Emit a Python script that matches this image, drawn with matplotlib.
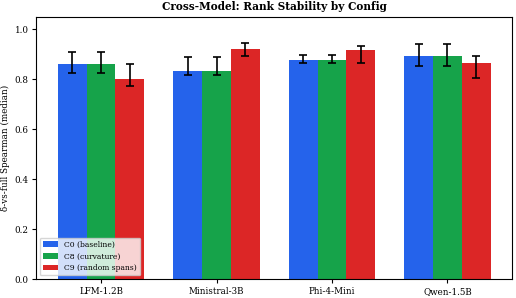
import matplotlib
matplotlib.use("Agg")
import matplotlib.pyplot as plt
import numpy as np

MODELS = ["LFM-1.2B", "Ministral-3B", "Phi-4-Mini", "Qwen-1.5B"]
CONFIGS = ["C0 (baseline)", "C8 (curvature)", "C9 (random spans)"]
MEDIANS = [
    [0.862, 0.832, 0.877, 0.892],   # C0
    [0.862, 0.832, 0.877, 0.892],   # C8
    [0.801, 0.921, 0.916, 0.867],   # C9
]
ERR_LO = [
    [0.826, 0.816, 0.865, 0.853],
    [0.826, 0.816, 0.865, 0.853],
    [0.773, 0.893, 0.865, 0.805],
]
ERR_HI = [
    [0.911, 0.888, 0.897, 0.940],
    [0.911, 0.888, 0.897, 0.940],
    [0.861, 0.947, 0.933, 0.895],
]
COLORS = ["#2563eb", "#16a34a", "#dc2626"]

plt.rcParams["font.family"] = "DejaVu Serif"

fig, ax = plt.subplots(figsize=(5.16, 2.98), dpi=100)
x = np.arange(len(MODELS))
w = 0.25
for i, (lab, c) in enumerate(zip(CONFIGS, COLORS)):
    med = np.array(MEDIANS[i])
    yerr = [med - np.array(ERR_LO[i]), np.array(ERR_HI[i]) - med]
    ax.bar(x + (i - 1) * w, med, w, color=c, label=lab, yerr=yerr, capsize=3,
           error_kw=dict(ecolor="black", elinewidth=1.2, capthick=1.2))

ax.set_xticks(x)
ax.set_xticklabels(MODELS, fontsize=6.3)
ax.tick_params(axis="both", labelsize=6.3, length=3, pad=2.5)
ax.set_ylim(0, 1.05)
ax.set_ylabel("δ-vs-full Spearman (median)", fontsize=6.3, labelpad=3)
ax.set_title("Cross-Model: Rank Stability by Config", fontsize=7.6,
             fontweight="bold", pad=5)
ax.legend(loc="lower left", fontsize=5.5, framealpha=0.8)
fig.subplots_adjust(left=0.07, right=0.993, top=0.943, bottom=0.063)
fig.savefig("out.png", dpi=100)
